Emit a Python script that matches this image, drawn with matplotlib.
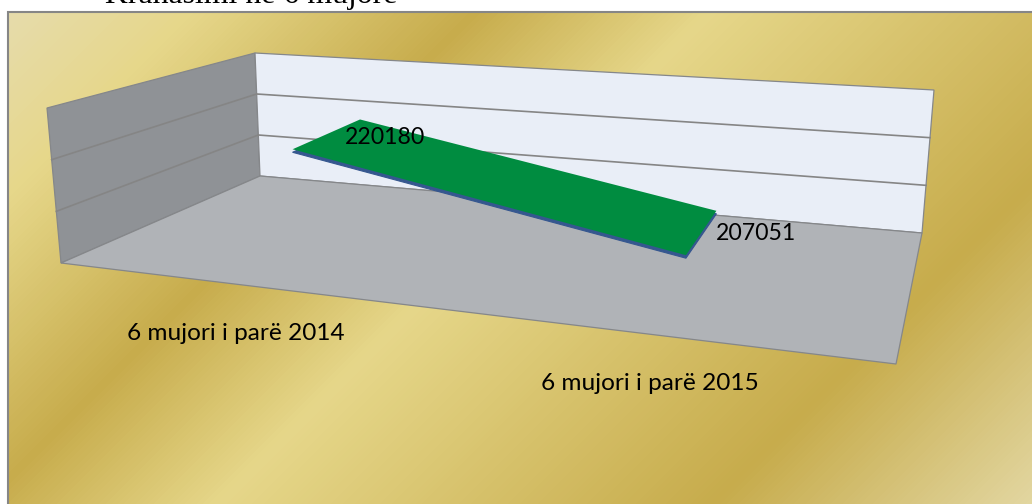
import numpy as np
import matplotlib as mpl
mpl.use('Agg')
import matplotlib.pyplot as plt
from matplotlib.colors import LinearSegmentedColormap
from matplotlib.patches import Polygon

mpl.rcParams['font.family'] = ['Lato', 'DejaVu Sans']

categories = ['6 mujori i parë 2014', '6 mujori i parë 2015']
values = [220180, 207051]
axis_ticks = [200000, 210000, 220000, 230000]
chart_title = 'Krahasimi ne 6 mujore'

W, H = 1032, 504

# the gold preset gradient of the chart area
gold_stops = [(0.0, '#E6DCAC'), (0.12, '#E6D78A'), (0.30, '#C7AC4C'),
              (0.45, '#E6D78A'), (0.77, '#C7AC4C'), (1.0, '#E6DCAC')]

# box corners in pixels, named by (left/right, front/back)
floor_lf = np.array([61., 263.])
floor_lb = np.array([260., 176.])
floor_rb = np.array([922., 233.])
floor_rf = np.array([896., 364.])
rise_lf = np.array([-14., -155.])
rise_lb = np.array([-5., -123.])
rise_rb = np.array([12., -143.])
rise_rf = np.array([18., -185.])

cat_pos = [0.222, 0.718]
ribbon_depth = (0.31, 0.72)
ribbon_lift = 0.03


def project(u, d, h):
    """u along the categories, d front to back, h height in the box; all 0-1"""
    front = floor_lf + u * (floor_rf - floor_lf)
    back = floor_lb + u * (floor_rb - floor_lb)
    rfront = rise_lf + u * (rise_rf - rise_lf)
    rback = rise_lb + u * (rise_rb - rise_lb)
    return front + d * (back - front) + h * (rfront + d * (rback - rfront))


def height(v):
    return (v - axis_ticks[0]) / (axis_ticks[-1] - axis_ticks[0])


def face(ax, pts, color, z):
    ax.add_patch(Polygon(pts, closed=True, facecolor=color, edgecolor='#85878a', linewidth=0.9, zorder=z))


fig = plt.figure(figsize=(W / 100, H / 100), dpi=100, facecolor='white')
ax = fig.add_axes([0, 0, 1, 1])
ax.axis('off')

# background
gold = LinearSegmentedColormap.from_list('gold', gold_stops)
xx, yy = np.meshgrid(np.arange(8, W) + 0.5, np.arange(12, H) + 0.5)
ax.imshow((xx + yy - 18) / 1560, cmap=gold, vmin=0, vmax=1, extent=(8, W, H, 12), aspect='auto', zorder=1,
          interpolation='bilinear')
ax.set_xlim(0, W)
ax.set_ylim(H, 0)
ax.plot([7.5, 7.5, W], [H, 11.5, 11.5], color='#868686', lw=1.5, zorder=2, solid_joinstyle='miter')

# walls and floor
face(ax, [project(0, 0, 0), project(0, 1, 0), project(0, 1, 1), project(0, 0, 1)], '#8F9296', 3)
face(ax, [project(0, 1, 0), project(1, 1, 0), project(1, 1, 1), project(0, 1, 1)], '#E9EEF7', 3)
face(ax, [project(0, 0, 0), project(1, 0, 0), project(1, 1, 0), project(0, 1, 0)], '#B0B3B7', 4)

for t in axis_ticks[1:-1]:
    h = height(t)
    pts = np.array([project(0, 0, h), project(0, 1, h), project(1, 1, h)])
    ax.plot(pts[:, 0], pts[:, 1], color='#858585', lw=1.2, zorder=4)

# the line as a flat ribbon
d0, d1 = ribbon_depth
front_pts = np.array([project(u, d0, height(v) + ribbon_lift) for u, v in zip(cat_pos, values)])
back_pts = np.array([project(u, d1, height(v) + ribbon_lift) for u, v in zip(cat_pos, values)])
ribbon = np.vstack([front_pts, back_pts[::-1]])
ax.add_patch(Polygon(ribbon + [0, 3], closed=True, facecolor='#35578F', edgecolor='#35578F', linewidth=0.8, zorder=5))
ax.add_patch(Polygon(ribbon, closed=True, facecolor='#008C40', edgecolor='none', zorder=6))

# labels
ax.text(345, 137, str(values[0]), fontsize=16.6, color='black', ha='left', va='center', zorder=7)
ax.text(716, 233, str(values[1]), fontsize=16.6, color='black', ha='left', va='center', zorder=7)
ax.text(127, 334, categories[0], fontsize=17.6, color='black', ha='left', va='center', zorder=7)
ax.text(541, 383, categories[1], fontsize=17.6, color='black', ha='left', va='center', zorder=7)
ax.text(105, 3.5, chart_title, fontsize=22.9, family=['Liberation Serif'], color='black', ha='left', va='baseline', zorder=7)

fig.savefig('out.png', dpi=100)
